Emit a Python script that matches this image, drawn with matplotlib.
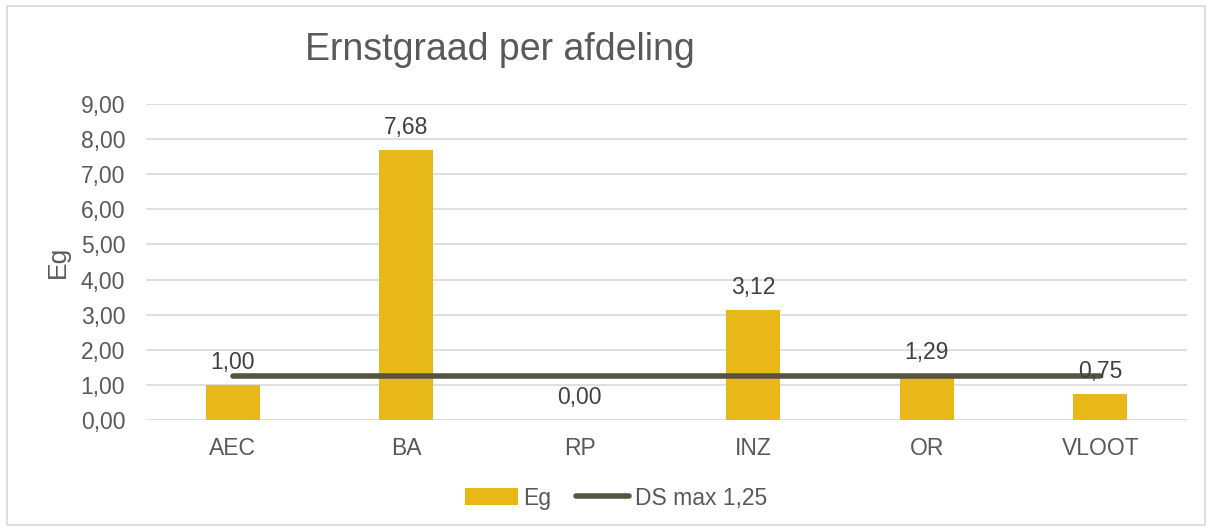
import matplotlib.pyplot as plt
from matplotlib.patches import Rectangle

categories = ["AEC", "BA", "RP", "INZ", "OR", "VLOOT"]
eg_values = [1.00, 7.68, 0.00, 3.12, 1.29, 0.75]
ds_max = [1.25, 1.25, 1.25, 1.25, 1.25, 1.25]
y_ticks = [0, 1, 2, 3, 4, 5, 6, 7, 8, 9]

plt.rcParams['font.family'] = ['Liberation Sans', 'DejaVu Sans']
txt = "#595959"
bar_col = "#E8B819"
line_col = "#575443"
fs = 16.5

fig = plt.figure(figsize=(12.13, 5.31), dpi=100)
fig.patches.append(Rectangle((7 / 1213, 6 / 531), 1198 / 1213, 519 / 531,
                             transform=fig.transFigure, fill=False,
                             edgecolor="#D9D9D9", linewidth=1.2))
ax = fig.add_axes([146 / 1213, 1 - 420 / 531, 1041 / 1213, 316 / 531])

x = list(range(len(categories)))
bars = ax.bar(x, eg_values, width=0.31, color=bar_col, label="Eg", zorder=2)
line, = ax.plot(x, ds_max, color=line_col, linewidth=4, solid_capstyle="round",
                label="DS max 1,25", zorder=3)

for xi, v in zip(x, eg_values):
    ax.annotate(f"{v:.2f}".replace(".", ","), (xi, v), xytext=(0, 11.5),
                textcoords="offset points", ha="center", va="baseline",
                fontsize=fs, color="#404040", zorder=4)

ax.set_xlim(-0.5, len(categories) - 0.5)
ax.set_ylim(0, 9)
ax.set_yticks(y_ticks)
ax.set_yticklabels([f"{t:.2f}".replace(".", ",") for t in y_ticks])
ax.set_xticks(x)
ax.set_xticklabels(categories)
ax.tick_params(axis="both", length=0, labelsize=fs, labelcolor=txt)
ax.tick_params(axis="x", pad=12)
ax.tick_params(axis="y", pad=15)
ax.grid(axis="y", color="#D9D9D9", linewidth=1.2, zorder=0)
ax.set_axisbelow(True)
for s in ax.spines.values():
    s.set_visible(False)

ax.set_ylabel("Eg", fontsize=19, color=txt, labelpad=8)
fig.text(305 / 1213, 1 - 50 / 531, "Ernstgraad per afdeling", fontsize=27,
         color=txt, ha="left", va="center")

ax.legend([bars, line], ["Eg", "DS max 1,25"], loc="center",
          bbox_to_anchor=(616 / 1213, 1 - 498 / 531),
          bbox_transform=fig.transFigure, ncol=2, frameon=False,
          fontsize=fs, labelcolor=txt, handlelength=2.3, handletextpad=0.25,
          columnspacing=1.1)

fig.savefig("out.png", dpi=100)
